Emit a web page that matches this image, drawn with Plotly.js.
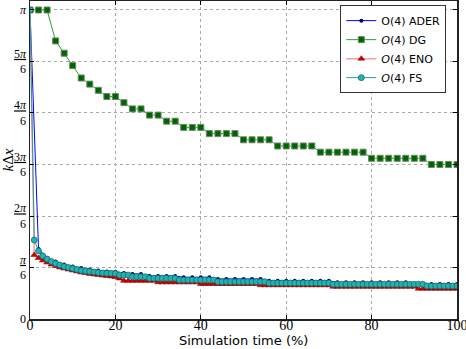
<!DOCTYPE html>
<html>
<head>
<meta charset="utf-8">
<script src="https://cdn.plot.ly/plotly-3.0.1.min.js"></script>
<style>
  body { margin: 0; background: #fff; }
  #chart { width: 466px; height: 349px; }
</style>
</head>
<body>
<div id="chart"></div>
<script>
// datos (k*dx vs tiempo de simulacion en %)
var PI = Math.PI;

// O(4) ADER, cada 2 %
var ader_x = [0, 2, 4, 6, 8, 10, 12, 14, 16, 18, 20, 22, 24, 26, 28, 30, 32, 34, 36, 38,
  40, 42, 44, 46, 48, 50, 52, 54, 56, 58, 60, 62, 64, 66, 68, 70, 72, 74, 76, 78,
  80, 82, 84, 86, 88, 90, 92, 94, 96, 98, 100];
var ader_y = [3.1416, 0.712, 0.620, 0.585, 0.554, 0.534, 0.519, 0.503, 0.493, 0.483, 0.481,
  0.468, 0.458, 0.458, 0.437, 0.437, 0.437, 0.437, 0.424, 0.424,
  0.424, 0.424, 0.407, 0.407, 0.407, 0.407, 0.407, 0.407, 0.388, 0.388,
  0.388, 0.388, 0.388, 0.388, 0.388, 0.388, 0.373, 0.373, 0.373, 0.373,
  0.373, 0.373, 0.373, 0.373, 0.373, 0.356, 0.356, 0.356, 0.356, 0.356, 0.356];

// O(4) DG, cada 2 %
var dg_x = ader_x;
var dg_y = [3.1416, 3.1416, 3.1416, 2.827, 2.702, 2.576, 2.450, 2.388, 2.325, 2.262, 2.262,
  2.199, 2.136, 2.136, 2.073, 2.073, 2.011, 2.011, 1.948, 1.948,
  1.948, 1.885, 1.885, 1.885, 1.885, 1.822, 1.822, 1.822, 1.822, 1.759,
  1.759, 1.759, 1.759, 1.759, 1.696, 1.696, 1.696, 1.696, 1.696, 1.696,
  1.634, 1.634, 1.634, 1.634, 1.634, 1.634, 1.634, 1.571, 1.571, 1.571, 1.571];

// O(4) ENO y O(4) FS, cada 1 %
var eno_x = [];
for (var i = 0; i <= 100; i++) eno_x.push(i);
var fs_x = eno_x;

var eno_y = [3.1416, 0.651, 0.620, 0.595, 0.574, 0.554, 0.539, 0.524, 0.513, 0.503,
  0.493, 0.483, 0.473, 0.468, 0.458, 0.453, 0.447, 0.442, 0.437, 0.432,
  0.427, 0.412, 0.389, 0.389, 0.389, 0.389, 0.389, 0.389, 0.389, 0.389,
  0.373, 0.373, 0.373, 0.373, 0.373, 0.373, 0.373, 0.373, 0.373, 0.373,
  0.356, 0.356, 0.356, 0.356, 0.356, 0.356, 0.356, 0.356, 0.356, 0.356,
  0.356, 0.356, 0.356, 0.356, 0.343, 0.343, 0.343, 0.343, 0.343, 0.343,
  0.343, 0.343, 0.343, 0.343, 0.343, 0.343, 0.343, 0.343, 0.343, 0.343,
  0.343, 0.328, 0.328, 0.328, 0.328, 0.328, 0.328, 0.328, 0.328, 0.328,
  0.328, 0.328, 0.328, 0.328, 0.328, 0.328, 0.328, 0.328, 0.328, 0.328,
  0.328, 0.308, 0.308, 0.308, 0.308, 0.308, 0.308, 0.308, 0.308, 0.308, 0.308];

var fs_y = [3.1416, 0.803, 0.691, 0.641, 0.610, 0.585, 0.564, 0.549, 0.534, 0.524,
  0.513, 0.503, 0.493, 0.488, 0.483, 0.478, 0.473, 0.468, 0.465, 0.465,
  0.463, 0.447, 0.447, 0.447, 0.430, 0.430, 0.430, 0.430, 0.414, 0.414,
  0.414, 0.414, 0.414, 0.414, 0.414, 0.397, 0.397, 0.397, 0.397, 0.397,
  0.397, 0.397, 0.397, 0.397, 0.379, 0.379, 0.379, 0.379, 0.379, 0.379,
  0.379, 0.379, 0.379, 0.379, 0.379, 0.379, 0.366, 0.366, 0.366, 0.366,
  0.366, 0.366, 0.366, 0.366, 0.366, 0.366, 0.366, 0.366, 0.366, 0.366,
  0.366, 0.353, 0.353, 0.353, 0.353, 0.353, 0.353, 0.353, 0.353, 0.353,
  0.353, 0.353, 0.353, 0.353, 0.353, 0.353, 0.353, 0.353, 0.353, 0.353,
  0.353, 0.353, 0.353, 0.336, 0.336, 0.336, 0.336, 0.336, 0.336, 0.336, 0.336];

// ticks del eje y en multiplos de pi/6
var y_tickvals = [0, PI / 6, 2 * PI / 6, 3 * PI / 6, 4 * PI / 6, 5 * PI / 6, PI];
var y_ticktext = ["0", "<u><i>π</i></u><br>6", "<u>2<i>π</i></u><br>6", "<u>3<i>π</i></u><br>6",
  "<u>4<i>π</i></u><br>6", "<u>5<i>π</i></u><br>6", "<i>π</i>"];
var x_tickvals = [0, 20, 40, 60, 80, 100];
var x_title = "Simulation time (%)";

var serif = "Liberation Serif, DejaVu Serif, serif";
var sans = "DejaVu Sans, Arial, sans-serif";

var traces = [
  {
    x: ader_x, y: ader_y, type: "scatter", mode: "lines+markers",
    name: "O(4) ADER",
    line: { color: "#0000ff", width: 1 },
    marker: { symbol: "circle", size: 4, color: "#000060" },
  },
  {
    x: dg_x, y: dg_y, type: "scatter", mode: "lines+markers",
    name: "<i>O</i>(4) DG",
    line: { color: "#3a9a3a", width: 1 },
    marker: { symbol: "square", size: 6, color: "#006400", line: { color: "#6a8a6a", width: 1 } },
  },
  {
    x: eno_x, y: eno_y, type: "scatter", mode: "lines+markers",
    name: "<i>O</i>(4) ENO",
    line: { color: "#ff9a9a", width: 1.5 },
    marker: { symbol: "triangle-up", size: 6, color: "#cc0000", line: { color: "#800000", width: 0.5 } },
  },
  {
    x: fs_x, y: fs_y, type: "scatter", mode: "lines+markers",
    name: "<i>O</i>(4) FS",
    line: { color: "#1aa0a0", width: 1 },
    marker: { symbol: "circle", size: 6, color: "#22b4b4", line: { color: "#106060", width: 0.7 } },
  },
];

var layout = {
  width: 466,
  height: 349,
  margin: { l: 30, r: 9, t: 1, b: 30 },
  paper_bgcolor: "#ffffff",
  plot_bgcolor: "#ffffff",
  showlegend: true,
  legend: {
    x: 0.975, y: 0.987, xanchor: "right", yanchor: "top",
    bgcolor: "#ffffff", bordercolor: "#333333", borderwidth: 1,
    font: { family: sans, size: 11, color: "#000" },
    itemwidth: 30,
    tracegroupgap: 0,
  },
  xaxis: {
    range: [0, 100],
    tickvals: x_tickvals,
    ticks: "inside", ticklen: 4, tickcolor: "#000",
    ticklabeloverflow: "allow",
    ticklabelstandoff: -7,
    showline: true, linecolor: "#222", linewidth: 1.5, mirror: "ticks",
    showgrid: true, gridcolor: "#a8a8a8", griddash: "dot", gridwidth: 1,
    zeroline: false,
    tickfont: { family: serif, size: 14, color: "#000" },
  },
  yaxis: {
    range: [0, 3.233],
    tickvals: y_tickvals,
    ticktext: y_ticktext,
    ticks: "inside", ticklen: 4, tickcolor: "#000",
    showline: true, linecolor: "#222", linewidth: 1.5, mirror: "ticks",
    showgrid: true, gridcolor: "#a8a8a8", griddash: "dot", gridwidth: 1,
    zeroline: false,
    tickfont: { family: serif, size: 12, color: "#000" },
    title: { text: "<i>k</i>Δ<i>x</i>", font: { family: serif, size: 15, color: "#000" }, standoff: 0 },
  },
  annotations: [
    {
      text: x_title, xref: "paper", yref: "paper", x: 0.5, y: -30 / 318,
      xanchor: "center", yanchor: "bottom", showarrow: false, borderpad: 0,
      font: { family: sans, size: 13, color: "#000" },
    },
  ],
};

Plotly.newPlot("chart", traces, layout, { displayModeBar: false, staticPlot: true });
</script>
</body>
</html>
